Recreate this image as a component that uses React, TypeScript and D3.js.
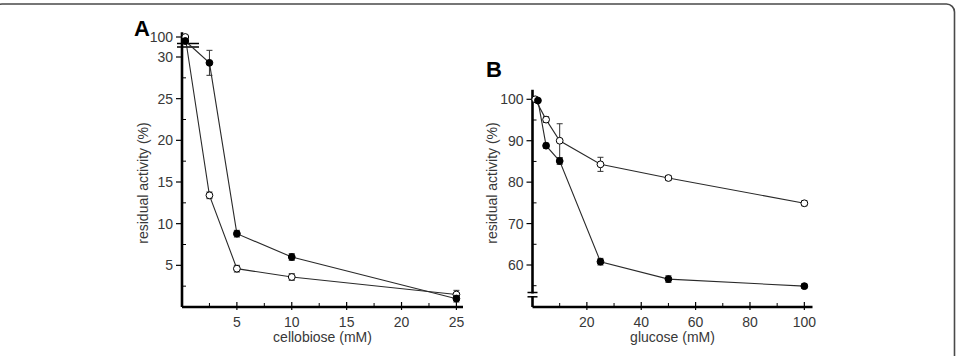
import React from 'react';
import * as d3 from 'd3';

// panel A: inhibition by cellobiose
const cellobioseMM = [0.3, 2.5, 5, 10, 25];
const cellobioseFilled = [99, 29.3, 8.8, 6.0, 1.0];
const cellobioseFilledErr = [0.5, 1.5, 0.4, 0.4, 0.4];
const cellobioseOpen = [100, 13.4, 4.6, 3.6, 1.5];
const cellobioseOpenErr = [0.4, 0.4, 0.4, 0.4, 0.5];

// panel B: inhibition by glucose
const glucoseOpenMM = [1, 5, 10, 25, 50, 100];
const glucoseOpen = [100, 95.1, 90.0, 84.3, 81.0, 74.9];
const glucoseOpenErr = [0.5, 0.7, 4.1, 1.7, 0.6, 0.6];
const glucoseFilledMM = [2, 5, 10, 25, 50, 100];
const glucoseFilled = [99.7, 88.8, 85.1, 60.8, 56.6, 54.9];
const glucoseFilledErr = [0.4, 0.6, 0.8, 0.8, 0.8, 0.5];

const aXTicks = [5, 10, 15, 20, 25];
const aXMinor = [2.5, 7.5, 12.5, 17.5, 22.5];
const aYTicks = [5, 10, 15, 20, 25, 30];
const aYMinor = [2.5, 7.5, 12.5, 17.5, 22.5, 27.5];
const aYUpperTicks = [100];
const bXTicks = [20, 40, 60, 80, 100];
const bXMinor = [10, 30, 50, 70, 90];
const bYTicks = [60, 70, 80, 90, 100];
const bYMinor = [55, 65, 75, 85, 95];

const FONT = '"Liberation Sans", Arial, Helvetica, sans-serif';
const TXT = '#383838';
const FS = 14;

type Pt = { x: number; y: number; e: number };

const zip = (xs: number[], ys: number[], es: number[]): Pt[] =>
  xs.map((x, i) => ({ x, y: ys[i], e: es[i] }));

function Series({ pts, sx, sy, filled }: {
  pts: Pt[];
  sx: (v: number) => number;
  sy: (v: number) => number;
  filled: boolean;
}) {
  const line = d3.line<Pt>().x((d) => sx(d.x)).y((d) => sy(d.y));
  return (
    <g>
      <path d={line(pts) || ''} fill="none" stroke="#2a2a2a" strokeWidth={1.1} />
      {pts.map((d, i) => (
        <g key={i} stroke="#333" strokeWidth={1}>
          <line x1={sx(d.x)} x2={sx(d.x)} y1={sy(d.y - d.e)} y2={sy(d.y + d.e)} />
          <line x1={sx(d.x) - 3} x2={sx(d.x) + 3} y1={sy(d.y - d.e)} y2={sy(d.y - d.e)} />
          <line x1={sx(d.x) - 3} x2={sx(d.x) + 3} y1={sy(d.y + d.e)} y2={sy(d.y + d.e)} />
        </g>
      ))}
      {pts.map((d, i) => (
        <circle key={i} cx={sx(d.x)} cy={sy(d.y)} r={3.4}
          fill={filled ? '#000' : '#fff'} stroke="#000" strokeWidth={1} />
      ))}
    </g>
  );
}

function XAxis({ sx, y0, ticks, minor, x1 }: {
  sx: d3.ScaleLinear<number, number>; y0: number; ticks: number[]; minor: number[]; x1: number;
}) {
  const x0 = sx.range()[0];
  return (
    <g>
      <line x1={x0} x2={x1} y1={y0} y2={y0} stroke="#000" strokeWidth={2.6} />
      {ticks.map((t) => (
        <g key={t}>
          <line x1={sx(t)} x2={sx(t)} y1={y0 - 5} y2={y0 + 3} stroke="#000" strokeWidth={1.2} />
          <text x={sx(t)} y={y0 + 20} textAnchor="middle" fontSize={FS} fill={TXT}>{t}</text>
        </g>
      ))}
      {minor.map((t) => (
        <line key={t} x1={sx(t)} x2={sx(t)} y1={y0 - 4} y2={y0} stroke="#000" strokeWidth={1} />
      ))}
    </g>
  );
}

function YTicks({ x0, sy, ticks, minor }: {
  x0: number; sy: (v: number) => number; ticks: number[]; minor: number[];
}) {
  return (
    <g>
      {ticks.map((t) => (
        <g key={t}>
          <line x1={x0 - 6} x2={x0} y1={sy(t)} y2={sy(t)} stroke="#000" strokeWidth={1.2} />
          <text x={x0 - 9} y={sy(t) + 5} textAnchor="end" fontSize={FS} fill={TXT}>{t}</text>
        </g>
      ))}
      {minor.map((t) => (
        <line key={t} x1={x0} x2={x0 + 4} y1={sy(t)} y2={sy(t)} stroke="#000" strokeWidth={1} />
      ))}
    </g>
  );
}

export default function App() {
  // panel A scales: broken y axis, upper band holds the 100 % points
  const xA = d3.scaleLinear().domain([0, 25.6]).range([182, 463]);
  const yALow = d3.scaleLinear().domain([0, 30]).range([307, 57]);
  const yAHigh = d3.scaleLinear().domain([98, 101]).range([45, 33]);
  const yA = (v: number) => (v > 50 ? yAHigh(v) : yALow(v));
  const aBase = yALow(0);
  const aLeft = xA(0);

  // panel B scales
  const xB = d3.scaleLinear().domain([0, 103]).range([532.5, 812.5]);
  const yB = d3.scaleLinear().domain([60, 100]).range([265, 99.3]);
  const bBase = 307;
  const bLeft = xB(0);

  return (
    <svg width={961} height={356} style={{ position: 'absolute', left: 0, top: 0, background: '#fff' }}
      fontFamily={FONT}>
      <rect x={-6} y={4} width={960.5} height={380} rx={8} fill="#fff" stroke="#4a4a4a" strokeWidth={1.6} />

      {/* ---- A ---- */}
      <text x={134} y={36} fontSize={22} fontWeight="bold" fill="#000">A</text>
      <line x1={aLeft} x2={aLeft} y1={yAHigh(101.2)} y2={aBase} stroke="#000" strokeWidth={2.6} />
      <XAxis sx={xA} y0={aBase} ticks={aXTicks} minor={aXMinor} x1={xA(25.6)} />
      <YTicks x0={aLeft} sy={yALow} ticks={aYTicks} minor={aYMinor} />
      <YTicks x0={aLeft} sy={yAHigh} ticks={aYUpperTicks} minor={[]} />
      <line x1={aLeft - 5} x2={aLeft + 17} y1={43.5} y2={43.5} stroke="#000" strokeWidth={1.5} />
      <line x1={aLeft - 5} x2={aLeft + 17} y1={47} y2={47} stroke="#000" strokeWidth={1.5} />
      <Series pts={zip(cellobioseMM, cellobioseOpen, cellobioseOpenErr)} sx={xA} sy={yA} filled={false} />
      <Series pts={zip(cellobioseMM, cellobioseFilled, cellobioseFilledErr)} sx={xA} sy={yA} filled={true} />
      <text transform={`translate(148,183) rotate(-90)`} textAnchor="middle" fontSize={FS} fill={TXT}>
        residual activity (%)
      </text>
      <text x={(xA(0) + xA(25.6)) / 2} y={342} textAnchor="middle" fontSize={FS} fill={TXT}>cellobiose (mM)</text>

      {/* ---- B ---- */}
      <text x={486} y={77} fontSize={22} fontWeight="bold" fill="#000">B</text>
      <line x1={bLeft} x2={bLeft} y1={yB(102.3)} y2={bBase} stroke="#000" strokeWidth={2.6} />
      <rect x={bLeft - 3} y={293.5} width={6} height={2.5} fill="#fff" />
      <line x1={bLeft - 5} x2={bLeft + 5} y1={292.5} y2={292.5} stroke="#000" strokeWidth={1.5} />
      <line x1={bLeft - 5} x2={bLeft + 5} y1={296.8} y2={296.8} stroke="#000" strokeWidth={1.5} />
      <XAxis sx={xB} y0={bBase} ticks={bXTicks} minor={bXMinor} x1={xB(103)} />
      <YTicks x0={bLeft} sy={yB} ticks={bYTicks} minor={bYMinor} />
      <Series pts={zip(glucoseOpenMM, glucoseOpen, glucoseOpenErr)} sx={xB} sy={yB} filled={false} />
      <Series pts={zip(glucoseFilledMM, glucoseFilled, glucoseFilledErr)} sx={xB} sy={yB} filled={true} />
      <text transform={`translate(497,183) rotate(-90)`} textAnchor="middle" fontSize={FS} fill={TXT}>
        residual activity (%)
      </text>
      <text x={(xB(0) + xB(103)) / 2} y={342} textAnchor="middle" fontSize={FS} fill={TXT}>glucose (mM)</text>
    </svg>
  );
}
